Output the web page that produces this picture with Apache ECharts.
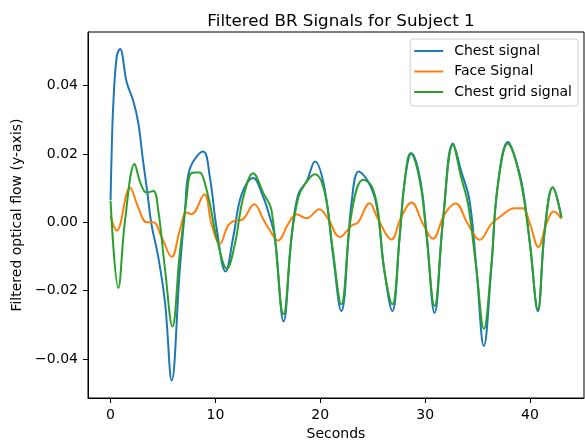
<!DOCTYPE html>
<html>
<head>
<meta charset="utf-8">
<script src="https://cdn.jsdelivr.net/npm/echarts@6/dist/echarts.min.js"></script>
<style>html,body{margin:0;padding:0;background:#fff}#c{width:585px;height:446px}</style>
</head>
<body>
<div id="c"></div>
<script>
var seriesNames = ['Chest signal', 'Face Signal', 'Chest grid signal'];
var xTicks = [0, 10, 20, 30, 40];
var yTicks = [-0.04, -0.02, 0.00, 0.02, 0.04];

var chestT = [0, 0.11, 0.27, 0.59, 0.9, 1.54, 2.17, 2.65, 3.1, 3.5, 3.9, 4.55, 5.2, 5.83, 6.6, 7.1, 7.57, 8.84, 9.48, 10.1, 10.97, 11.7, 12.5, 13.6, 14.55, 15.2, 15.67, 16.5, 17.26, 17.9, 18.7, 19.5, 20.4, 21.2, 22.0, 22.97, 23.67, 24.55, 25.35, 26.1, 26.87, 27.57, 28.05, 28.7, 29.5, 30.1, 30.9, 31.7, 32.65, 33.45, 34.24, 34.9, 35.6, 36.3, 36.9, 37.9, 38.5, 39.3, 40.0, 40.75, 41.4, 42.17, 43.0];
var chestV = [0.0065, 0.021, 0.035, 0.0486, 0.0507, 0.041, 0.0355, 0.029, 0.018, 0.009, -0.0005, -0.0101, -0.0236, -0.0463, -0.0139, 0.0035, 0.0158, 0.0207, 0.013, -0.0014, -0.0144, -0.0043, 0.0082, 0.013, 0.0075, 0.0014, -0.0043, -0.029, -0.0043, 0.0082, 0.012, 0.0178, 0.0101, -0.0091, -0.026, 0.0053, 0.0149, 0.012, 0.0053, -0.0139, -0.026, -0.0043, 0.012, 0.0202, 0.013, -0.002, -0.0265, 0.0005, 0.0231, 0.0149, 0.0063, -0.0139, -0.0362, -0.0139, 0.0101, 0.0236, 0.0197, 0.0101, -0.0063, -0.026, -0.0024, 0.0103, 0.0014];

var faceT = [0, 0.59, 1.86, 2.65, 3.45, 4.08, 4.87, 5.83, 6.6, 7.26, 7.73, 8.94, 9.63, 10.43, 11.2, 11.86, 12.5, 13.7, 14.55, 15.2, 15.98, 16.93, 17.73, 18.68, 19.9, 20.75, 21.86, 22.97, 23.6, 24.7, 25.5, 26.8, 27.7, 28.7, 29.8, 30.74, 31.86, 32.9, 34.08, 35.2, 36.3, 37.26, 38.5, 39.3, 40.0, 40.8, 41.55, 42.27, 43.0];
var faceV = [0.0019, -0.0024, 0.0101, 0.0043, 0.0, 0.0, -0.0043, -0.0101, -0.0024, 0.0029, 0.0024, 0.0082, -0.0005, -0.0063, -0.001, 0.0005, 0.0007, 0.0053, 0.001, -0.0024, -0.0053, -0.0005, 0.0024, 0.0012, 0.0038, 0.001, -0.0043, -0.001, 0.0, 0.0056, 0.001, -0.005, 0.0014, 0.0058, -0.0005, -0.0048, 0.0024, 0.0055, -0.0005, -0.0051, -0.0005, 0.0019, 0.0041, 0.0041, -0.0005, -0.0072, -0.0005, 0.0032, 0.001];

var gridT = [0, 0.74, 1.38, 2.3, 2.8, 3.45, 4.08, 4.55, 5.2, 5.9, 6.6, 7.26, 7.57, 8.05, 8.5, 8.84, 9.48, 10.1, 11.1, 11.86, 12.65, 13.6, 14.55, 15.35, 16.5, 17.26, 17.9, 18.5, 19.48, 20.4, 21.2, 22.0, 22.97, 24.08, 24.9, 25.5, 26.1, 26.87, 27.57, 28.05, 28.6, 29.5, 30.1, 30.9, 31.7, 32.65, 33.45, 34.1, 34.9, 35.6, 36.3, 36.9, 37.9, 38.5, 39.3, 40.0, 40.75, 41.4, 42.17, 43.0];
var gridV = [0.0063, -0.0192, 0.0005, 0.0171, 0.012, 0.0087, 0.0092, 0.0035, -0.0139, -0.0305, -0.0091, 0.0072, 0.0139, 0.0146, 0.0146, 0.013, 0.0053, -0.0043, -0.0135, -0.0063, 0.0072, 0.0144, 0.0087, 0.0035, -0.0269, -0.0043, 0.0072, 0.011, 0.0141, 0.0091, -0.0082, -0.024, 0.0024, 0.0125, 0.0106, 0.0034, -0.0139, -0.024, -0.004, 0.012, 0.0202, 0.012, -0.003, -0.0245, 0.0005, 0.0226, 0.013, 0.0053, -0.014, -0.0312, -0.013, 0.0101, 0.0231, 0.0195, 0.0091, -0.0065, -0.0255, -0.0024, 0.0103, 0.0014];

function pairs(t, v) { return t.map(function (x, i) { return [x, v[i]]; }); }

var FONT = 'DejaVu Sans';
var chart = echarts.init(document.getElementById('c'), null, { renderer: 'canvas' });
function mk(name, t, v, color) {
  return {
    name: name, type: 'line', data: pairs(t, v), showSymbol: false, symbol: 'none',
    smooth: 0.4,
    lineStyle: { color: color, width: 2 }, itemStyle: { color: color }, animation: false
  };
}
chart.setOption({
  animation: false,
  backgroundColor: '#fff',
  title: {
    text: 'Filtered BR Signals for Subject 1', left: 336, top: 8, textAlign: 'center',
    textStyle: { fontFamily: FONT, fontSize: 16.7, fontWeight: 'normal', color: '#000' }
  },
  legend: {
    orient: 'vertical', right: 7, top: 39, icon: 'rect', itemWidth: 29, itemHeight: 2,
    itemGap: 6.5, padding: [5, 6, 7, 4], borderColor: '#d0d0d0', borderWidth: 1, borderRadius: 3,
    backgroundColor: 'rgba(255,255,255,0.8)',
    textStyle: { fontFamily: FONT, fontSize: 14, color: '#000', lineHeight: 14, padding: [0, 0, 0, 6] },
    data: seriesNames
  },
  grid: { left: 88, right: 1, top: 32, bottom: 44, show: true, borderColor: '#000', borderWidth: 1, backgroundColor: 'transparent' },
  xAxis: {
    type: 'value', min: -2.15, max: 45.15,
    name: 'Seconds', nameLocation: 'middle', nameGap: 29,
    nameTextStyle: { fontFamily: FONT, fontSize: 14, color: '#000' },
    axisLine: { show: true, onZero: false, lineStyle: { color: '#000', width: 1 } },
    axisTick: { show: true, length: 5, customValues: xTicks, lineStyle: { color: '#000' } },
    axisLabel: { customValues: xTicks, fontFamily: FONT, fontSize: 14, color: '#000', margin: 10 },
    splitLine: { show: false }
  },
  yAxis: {
    type: 'value', min: -0.0514, max: 0.0557,
    name: 'Filtered optical flow (y-axis)', nameLocation: 'middle', nameGap: 59, nameRotate: 90,
    nameTextStyle: { fontFamily: FONT, fontSize: 14, color: '#000' },
    axisLine: { show: true, onZero: false, lineStyle: { color: '#000', width: 1 } },
    axisTick: { show: true, length: 5, customValues: yTicks, lineStyle: { color: '#000' } },
    axisLabel: {
      customValues: yTicks, fontFamily: FONT, fontSize: 14, color: '#000', margin: 10,
      formatter: function (v) { return v.toFixed(2).replace('-', '\u2212'); }
    },
    splitLine: { show: false }
  },
  series: [
    mk(seriesNames[0], chestT, chestV, '#1f77b4'),
    mk(seriesNames[1], faceT, faceV, '#ff7f0e'),
    mk(seriesNames[2], gridT, gridV, '#2ca02c')
  ]
});
</script>
</body>
</html>
